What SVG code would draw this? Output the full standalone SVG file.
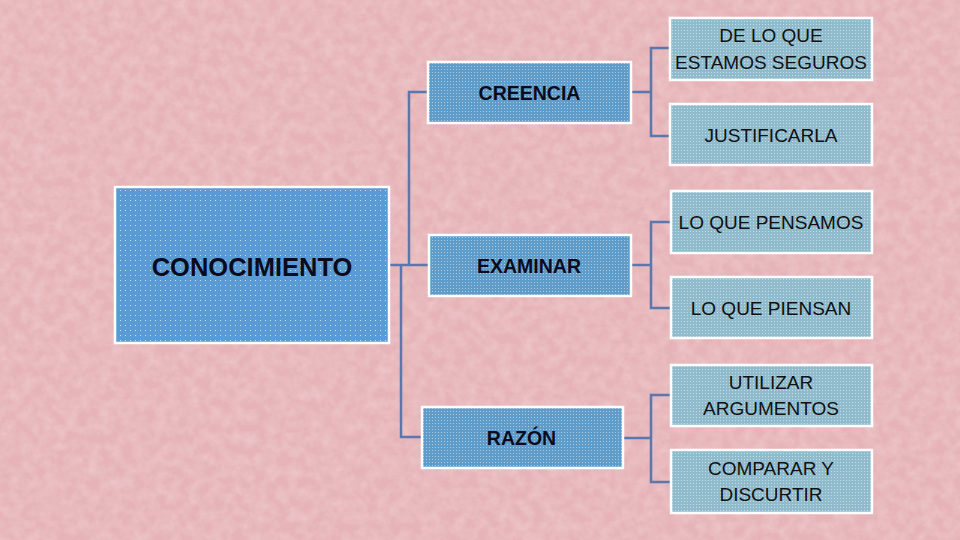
<svg xmlns="http://www.w3.org/2000/svg" width="960" height="540" viewBox="0 0 960 540">
  <defs>
    <filter id="noise" x="0" y="0" width="100%" height="100%">
      <feTurbulence type="fractalNoise" baseFrequency="0.09" numOctaves="4" seed="7"/>
      <feColorMatrix type="matrix" values="0 0 0 0 0.96  0 0 0 0 0.80  0 0 0 0 0.82  0.6 0 0 0 -0.2"/>
    </filter>
    <pattern id="dMain" width="5" height="5" patternUnits="userSpaceOnUse">
      <rect x="0" y="0" width="1" height="1" fill="#ffffff" fill-opacity="0.7"/>
    </pattern>
    <pattern id="dMid" width="3" height="3" patternUnits="userSpaceOnUse">
      <rect x="0" y="0" width="1" height="1" fill="#ffffff" fill-opacity="0.45"/>
    </pattern>
    <pattern id="dLeaf" width="3" height="3" patternUnits="userSpaceOnUse">
      <rect x="0" y="0" width="1" height="1" fill="#ffffff" fill-opacity="0.5"/>
    </pattern>
    <style>
      .box { stroke: #ffffff; stroke-width: 2.5; }
      .main { fill: #5b9bd5; }
      .mid { fill: #5f9cca; }
      .leaf { fill: #8fbbcd; }
      .tb { font-family: "Liberation Sans", Arial, sans-serif; font-weight: bold; fill: #0b0b1e; text-anchor: middle; }
      .tn { font-family: "Liberation Sans", Arial, sans-serif; font-size: 19px; fill: #111111; text-anchor: middle; }
      .conn { fill: none; stroke: #5a78ad; stroke-width: 2.5; }
    </style>
  </defs>

  <rect width="960" height="540" fill="#e6b4b8"/>
  <rect width="960" height="540" filter="url(#noise)"/>

  <g id="connectors">
    <path class="conn" d="M389,265 H429"/>
    <path class="conn" d="M409,265 V92 H428"/>
    <path class="conn" d="M401,265 V437 H422"/>
    <path class="conn" d="M631,92 H651"/>
    <path class="conn" d="M670,48 H651 V136 H670"/>
    <path class="conn" d="M631,265 H651"/>
    <path class="conn" d="M671,222 H651 V308 H671"/>
    <path class="conn" d="M623,438 H651"/>
    <path class="conn" d="M671,395 H651 V482 H671"/>
  </g>

  <g id="conocimiento">
    <rect class="box main" x="115" y="187" width="274" height="156"/>
    <rect x="116" y="188" width="272" height="154" fill="url(#dMain)"/>
    <text class="tb" x="252" y="276" font-size="25.5">CONOCIMIENTO</text>
  </g>

  <g id="creencia">
    <rect class="box mid" x="428" y="62" width="203" height="61"/>
    <rect x="429" y="63" width="201" height="59" fill="url(#dMid)"/>
    <text class="tb" x="529.5" y="100" font-size="19.5">CREENCIA</text>
  </g>

  <g id="examinar">
    <rect class="box mid" x="429" y="235" width="202" height="61"/>
    <rect x="430" y="236" width="200" height="59" fill="url(#dMid)"/>
    <text class="tb" x="529" y="273" font-size="19.5">EXAMINAR</text>
  </g>

  <g id="razon">
    <rect class="box mid" x="422" y="407" width="201" height="61"/>
    <rect x="423" y="408" width="199" height="59" fill="url(#dMid)"/>
    <text class="tb" x="521.5" y="445" font-size="19.5">RAZÓN</text>
  </g>

  <g id="seguros">
    <rect class="box leaf" x="670" y="18" width="202" height="62"/>
    <rect x="671" y="19" width="200" height="60" fill="url(#dLeaf)"/>
    <text class="tn" x="771" y="42">DE LO QUE</text>
    <text class="tn" x="771" y="69">ESTAMOS SEGUROS</text>
  </g>

  <g id="justificarla">
    <rect class="box leaf" x="670" y="104" width="202" height="61"/>
    <rect x="671" y="105" width="200" height="59" fill="url(#dLeaf)"/>
    <text class="tn" x="771" y="141.5">JUSTIFICARLA</text>
  </g>

  <g id="pensamos">
    <rect class="box leaf" x="671" y="191" width="201" height="62"/>
    <rect x="672" y="192" width="199" height="60" fill="url(#dLeaf)"/>
    <text class="tn" x="771" y="229">LO QUE PENSAMOS</text>
  </g>

  <g id="piensan">
    <rect class="box leaf" x="671" y="277" width="201" height="61"/>
    <rect x="672" y="278" width="199" height="59" fill="url(#dLeaf)"/>
    <text class="tn" x="771" y="315">LO QUE PIENSAN</text>
  </g>

  <g id="argumentos">
    <rect class="box leaf" x="671" y="365" width="201" height="61"/>
    <rect x="672" y="366" width="199" height="59" fill="url(#dLeaf)"/>
    <text class="tn" x="771" y="389">UTILIZAR</text>
    <text class="tn" x="771" y="415">ARGUMENTOS</text>
  </g>

  <g id="comparar">
    <rect class="box leaf" x="671" y="450" width="201" height="63"/>
    <rect x="672" y="451" width="199" height="61" fill="url(#dLeaf)"/>
    <text class="tn" x="771" y="475">COMPARAR Y</text>
    <text class="tn" x="771" y="501">DISCURTIR</text>
  </g>
</svg>
